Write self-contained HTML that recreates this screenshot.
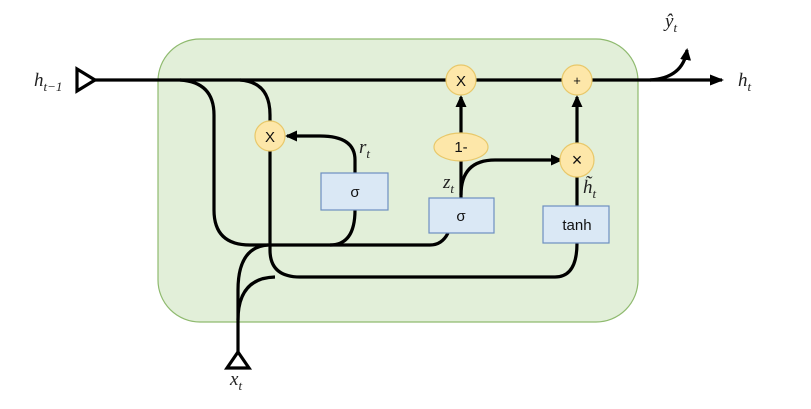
<!DOCTYPE html>
<html><head><meta charset="utf-8"><style>
html,body{margin:0;padding:0;background:#fff;width:811px;height:409px;overflow:hidden}
</style></head><body>
<svg width="811" height="409" viewBox="0 0 811 409" xmlns="http://www.w3.org/2000/svg">
<defs>
<marker id="a" markerWidth="12" markerHeight="12" refX="10" refY="6" orient="auto" markerUnits="userSpaceOnUse">
<path d="M0,0.5 L12,6 L0,11.5 z" fill="#000"/></marker>
<marker id="b" markerWidth="14" markerHeight="12" refX="12" refY="6" orient="auto" markerUnits="userSpaceOnUse">
<path d="M0,0.5 L14,6 L0,11.5 z" fill="#000"/></marker>
</defs>
<rect x="158" y="39" width="480" height="283" rx="42" fill="#e2efd9" stroke="#8fba6f" stroke-width="1.2"/>
<g fill="none" stroke="#000" stroke-width="3.2">
<path d="M95,80 H722" marker-end="url(#b)"/>
<path d="M650,80 Q683,78 687,50" marker-end="url(#a)"/>
<path d="M180,80 Q214,82 214,115 V210 Q214,245 250,245 H430 Q442,245 448,233"/>
<path d="M330,245 Q355,245 355,210"/>
<path d="M240,80 Q270,82 270,115 V121"/>
<path d="M270,151 V250 Q270,277 300,277 H555 Q577,277 577,243"/>
<path d="M238,352 V290 Q238,247 268,245"/>
<path d="M238,320 Q238,278 275,277"/>
<path d="M355,173 V160 Q355,136 320,136 H287" marker-end="url(#a)"/>
<path d="M461,198 V161"/>
<path d="M461,133 V97" marker-end="url(#a)"/>
<path d="M461,195 Q461,160 495,160 H561" marker-end="url(#a)"/>
<path d="M577,206 V177"/>
<path d="M577,143 V97" marker-end="url(#a)"/>
</g>
<path d="M77,69 L95,80 L77,91 z" fill="#fff" stroke="#000" stroke-width="3.2"/>
<path d="M238,352 L249,368 L227,368 z" fill="#fff" stroke="#000" stroke-width="3.2"/>
<g fill="#fde7a9" stroke="#e8c86a" stroke-width="1.2">
<circle cx="270" cy="136" r="15"/>
<circle cx="461" cy="80" r="15"/>
<circle cx="577" cy="80" r="15"/>
<circle cx="577" cy="160" r="17"/>
<ellipse cx="461" cy="147" rx="27" ry="14"/>
</g>
<g fill="#dae8f5" stroke="#6d8fc0" stroke-width="1.2">
<rect x="321" y="173" width="67" height="37"/>
<rect x="429" y="198" width="65" height="35"/>
<rect x="543" y="206" width="66" height="37"/>
</g>
<g font-family="Liberation Sans, sans-serif" font-size="15" text-anchor="middle" fill="#111">
<text x="270" y="142">X</text>
<text x="461" y="86">X</text>
<text x="577" y="85" font-size="13">+</text>
<text x="577" y="166" font-size="18">×</text>
<text x="461" y="152">1-</text>
<text x="355" y="197">σ</text>
<text x="461" y="221">σ</text>
<text x="577" y="230">tanh</text>
</g>
<g font-family="Liberation Serif, serif" font-style="italic" font-size="19" fill="#222">
<text x="34" y="86">h<tspan font-size="13" dy="5">t−1</tspan></text>
<text x="738" y="86">h<tspan font-size="13" dy="5">t</tspan></text>
<text x="665" y="27">ŷ<tspan font-size="13" dy="5">t</tspan></text>
<text x="230" y="385">x<tspan font-size="13" dy="5">t</tspan></text>
<text x="359" y="153">r<tspan font-size="13" dy="5">t</tspan></text>
<text x="443" y="188">z<tspan font-size="13" dy="5">t</tspan></text>
<text x="583" y="193">h̃<tspan font-size="13" dy="5">t</tspan></text>
</g>
</svg>
</body></html>
